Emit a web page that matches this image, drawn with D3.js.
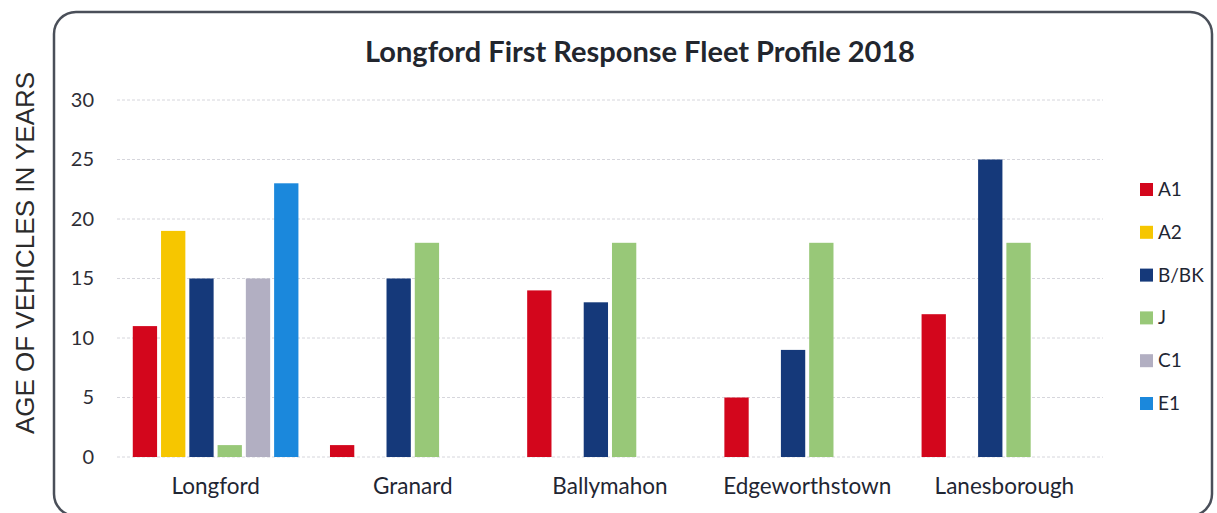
<!DOCTYPE html>
<html>
<head>
<meta charset="utf-8">
<script src="https://cdn.jsdelivr.net/npm/d3@7"></script>
<style>
  body { margin: 0; background: #fff; }
  svg { display: block; }
</style>
</head>
<body>
<div id="chart"></div>
<script>
// data
var categories = ["Longford", "Granard", "Ballymahon", "Edgeworthstown", "Lanesborough"];
var seriesNames = ["A1", "A2", "B/BK", "J", "C1", "E1"];
var seriesColors = ["#d3061c", "#f6c600", "#15397a", "#98c878", "#b2afc2", "#1b88dc"];
var valuesA1 = [11, 1, 14, 5, 12];
var valuesA2 = [19, null, null, null, null];
var valuesBBK = [15, 15, 13, 9, 25];
var valuesJ = [1, 18, 18, 18, 18];
var valuesC1 = [15, null, null, null, null];
var valuesE1 = [23, null, null, null, null];
var yTicks = [0, 5, 10, 15, 20, 25, 30];

var allValues = [valuesA1, valuesA2, valuesBBK, valuesJ, valuesC1, valuesE1];

var width = 1217, height = 513;
var margin = {top: 100, left: 117, right: 114, bottom: 56};

var svg = d3.select("#chart").append("svg")
    .attr("width", width)
    .attr("height", height);

// outer frame
svg.append("rect")
    .attr("x", 54)
    .attr("y", 12)
    .attr("width", 1158)
    .attr("height", 504)
    .attr("rx", 22)
    .style("fill", "none")
    .style("stroke", "#4a4f59")
    .style("stroke-width", 2.5);

var x0 = d3.scaleBand()
    .domain(categories)
    .range([margin.left, width - margin.right])
    .paddingInner(0.16)
    .paddingOuter(0.08);

var x1 = d3.scaleBand()
    .domain(seriesNames)
    .range([0, x0.bandwidth()])
    .paddingInner(0.14);

var y = d3.scaleLinear()
    .domain([0, 30])
    .range([height - margin.bottom, margin.top]);

// gridlines
svg.append("g")
    .selectAll("line")
    .data(yTicks)
    .enter()
    .append("line")
    .attr("x1", margin.left)
    .attr("x2", width - margin.right)
    .attr("y1", function (d) { return y(d); })
    .attr("y2", function (d) { return y(d); })
    .style("stroke", "#d6d6dc")
    .style("stroke-width", 1)
    .style("stroke-dasharray", "3,2");

// y axis labels
var yAxis = d3.axisLeft(y).tickValues(yTicks).tickSize(0).tickPadding(0);
var yg = svg.append("g")
    .attr("transform", "translate(94,0)")
    .call(yAxis);
yg.select(".domain").remove();
yg.selectAll("text")
    .style("font-family", "Lato, 'Open Sans', sans-serif")
    .style("font-size", "20px")
    .style("fill", "#2e2e36");

// x axis labels
var xAxis = d3.axisBottom(x0).tickSize(0).tickPadding(0);
var xg = svg.append("g")
    .attr("transform", "translate(0," + (y(0) + 21) + ")")
    .call(xAxis);
xg.select(".domain").remove();
xg.selectAll("text")
    .style("font-family", "Lato, 'Open Sans', sans-serif")
    .style("font-size", "22.5px")
    .style("fill", "#1f2633");

// bars
var groups = svg.append("g")
    .selectAll("g")
    .data(categories)
    .enter()
    .append("g")
    .attr("transform", function (d) { return "translate(" + x0(d) + ",0)"; });

groups.selectAll("rect")
    .data(function (d, i) {
        return seriesNames.map(function (s, j) {
            return {series: s, value: allValues[j][i], color: seriesColors[j]};
        }).filter(function (e) { return e.value !== null; });
    })
    .enter()
    .append("rect")
    .attr("x", function (d) { return x1(d.series); })
    .attr("y", function (d) { return y(d.value); })
    .attr("width", x1.bandwidth())
    .attr("height", function (d) { return y(0) - y(d.value); })
    .style("fill", function (d) { return d.color; });

// title
svg.append("text")
    .attr("x", 640)
    .attr("y", 62)
    .attr("text-anchor", "middle")
    .style("font-family", "Lato, 'Open Sans', sans-serif")
    .style("font-weight", "bold")
    .style("font-size", "29px")
    .style("fill", "#22262e")
    .text("Longford First Response Fleet Profile 2018");

// y axis title
svg.append("text")
    .attr("transform", "translate(34,253) rotate(-90)")
    .attr("text-anchor", "middle")
    .style("font-family", "Arial, 'Liberation Sans', sans-serif")
    .style("font-size", "26px")
    .style("fill", "#2b2b2b")
    .text("AGE OF VEHICLES IN YEARS");

// legend
var legend = svg.append("g")
    .selectAll("g")
    .data(seriesNames)
    .enter()
    .append("g")
    .attr("transform", function (d, i) { return "translate(1140," + (183 + i * 42.8) + ")"; });

legend.append("rect")
    .attr("width", 13)
    .attr("height", 13)
    .style("fill", function (d, i) { return seriesColors[i]; });

legend.append("text")
    .attr("x", 18)
    .attr("y", 13)
    .style("font-family", "Lato, 'Open Sans', sans-serif")
    .style("font-size", "19px")
    .style("fill", "#1f2633")
    .text(function (d) { return d; });
</script>
</body>
</html>
